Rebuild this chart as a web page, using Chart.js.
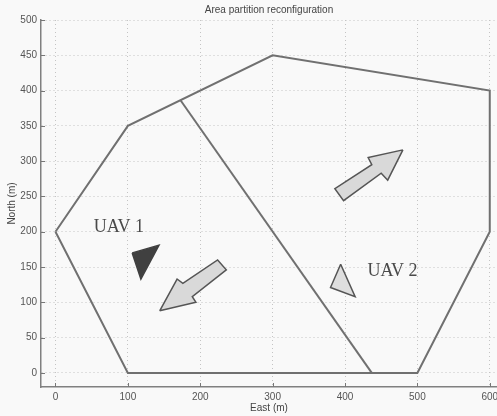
<!DOCTYPE html>
<html>
<head>
<meta charset="utf-8">
<script src="https://cdn.jsdelivr.net/npm/chart.js@4"></script>
<style>
  body { margin: 0; background: #f9f9f9; }
  #wrap { width: 497px; height: 416px; }
</style>
</head>
<body>
<div id="wrap"><canvas id="areaChart" width="497" height="416"></canvas></div>
<script>
// area boundary (m)
var boundaryX = [0, 100, 300, 600, 600, 500, 100, 0];
var boundaryY = [200, 350, 450, 400, 200, 0, 0, 200];

// partition line between UAV 1 and UAV 2
var splitX = [173, 437];
var splitY = [386, 0];

// motion arrows
var arrow1X = [480, 432, 437, 386, 398, 450, 459, 480];
var arrow1Y = [316, 305, 295, 261, 244, 283, 273, 316];
var arrow2X = [144, 168, 176, 224, 236, 189, 194, 144];
var arrow2Y = [88, 133, 127, 160, 146, 108, 100, 88];

// UAV markers
var uav1X = [106, 143, 118, 106];
var uav1Y = [170, 181, 133, 170];
var uav2X = [394, 380, 414, 394];
var uav2Y = [154, 121, 108, 154];

// UAV names and where they are written (m)
var uavNames = ['UAV 1', 'UAV 2'];
var nameX = [53, 431];
var nameY = [207, 144];

var xTicks = [0, 100, 200, 300, 400, 500, 600];
var yTicks = [0, 50, 100, 150, 200, 250, 300, 350, 400, 450, 500];

function pts(xs, ys) {
    return xs.map(function (x, i) { return { x: x, y: ys[i] }; });
}

function shape(xs, ys, fillColor, lineColor) {
    return {
        data: pts(xs, ys),
        showLine: true,
        fill: 'shape',
        backgroundColor: fillColor,
        borderColor: lineColor,
        borderWidth: 1.5,
        pointRadius: 0,
        tension: 0
    };
}

// names and inward tick marks
var extras = {
    id: 'extras',
    afterDraw: function (chart) {
        var ctx = chart.ctx;
        var xs = chart.scales.x, ys = chart.scales.y;
        var area = chart.chartArea;
        ctx.save();
        ctx.strokeStyle = '#777';
        ctx.lineWidth = 1;
        ctx.beginPath();
        xTicks.forEach(function (v) {
            var px = Math.round(xs.getPixelForValue(v)) + 0.5;
            ctx.moveTo(px, area.bottom);
            ctx.lineTo(px, area.bottom - 4);
        });
        yTicks.forEach(function (v) {
            var py = Math.round(ys.getPixelForValue(v)) + 0.5;
            ctx.moveTo(area.left, py);
            ctx.lineTo(area.left + 4, py);
        });
        ctx.stroke();

        ctx.fillStyle = '#4a4a4a';
        ctx.font = '18px "Liberation Serif", "DejaVu Serif", serif';
        ctx.textAlign = 'left';
        ctx.textBaseline = 'middle';
        uavNames.forEach(function (name, i) {
            ctx.fillText(name, xs.getPixelForValue(nameX[i]), ys.getPixelForValue(nameY[i]));
        });
        ctx.restore();
    }
};

var tickFont = { family: '"Liberation Sans", Arial, sans-serif', size: 10 };

var ctx = document.getElementById('areaChart').getContext('2d');
var areaChart = new Chart(ctx, {
    type: 'scatter',
    data: {
        datasets: [
            {
                data: pts(boundaryX, boundaryY),
                showLine: true,
                fill: false,
                borderColor: '#707070',
                borderWidth: 2,
                pointRadius: 0,
                tension: 0
            },
            {
                data: pts(splitX, splitY),
                showLine: true,
                fill: false,
                borderColor: '#707070',
                borderWidth: 2,
                pointRadius: 0
            },
            shape(arrow1X, arrow1Y, '#d9d9d9', '#555555'),
            shape(arrow2X, arrow2Y, '#d9d9d9', '#555555'),
            shape(uav1X, uav1Y, '#404040', '#404040'),
            shape(uav2X, uav2Y, '#dedede', '#555555')
        ]
    },
    options: {
        responsive: false,
        animation: false,
        layout: { padding: 0 },
        plugins: {
            legend: { display: false },
            tooltip: { enabled: false },
            title: {
                display: true,
                text: 'Area partition reconfiguration',
                fullSize: false,
                color: '#444',
                font: { family: '"Liberation Sans", Arial, sans-serif', size: 10, weight: 'normal' },
                padding: { top: 4, bottom: 4 }
            }
        },
        scales: {
            x: {
                type: 'linear',
                min: -20,
                max: 610,
                ticks: {
                    stepSize: 100,
                    includeBounds: false,
                    color: '#555',
                    font: tickFont,
                    padding: 4,
                    maxRotation: 0
                },
                grid: { color: '#c4c4c4', drawTicks: false },
                border: { display: true, color: '#808080', width: 1.5, dash: [1, 3] },
                title: {
                    display: true,
                    text: 'East (m)',
                    color: '#444',
                    font: tickFont,
                    padding: { top: 0, bottom: 2 }
                },
                afterFit: function (scale) {
                    scale.height = 29;
                    scale.paddingLeft = 0;
                    scale.paddingRight = 0;
                }
            },
            y: {
                type: 'linear',
                min: -20,
                max: 500,
                ticks: {
                    stepSize: 50,
                    includeBounds: false,
                    color: '#555',
                    font: tickFont,
                    padding: 4
                },
                grid: { color: '#c4c4c4', drawTicks: false },
                border: { display: true, color: '#808080', width: 1.5, dash: [1, 3] },
                title: {
                    display: true,
                    text: 'North (m)',
                    color: '#444',
                    font: tickFont,
                    padding: { top: 6, bottom: 0 }
                },
                afterFit: function (scale) {
                    scale.width = 41;
                }
            }
        }
    },
    plugins: [extras]
});
</script>
</body>
</html>
